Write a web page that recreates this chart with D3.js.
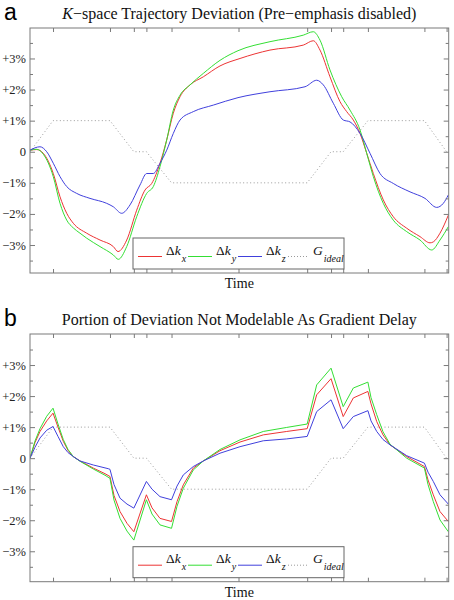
<!DOCTYPE html>
<html><head><meta charset="utf-8">
<script src="https://cdn.jsdelivr.net/npm/d3@7"></script>
<style>body{margin:0;background:#fff}svg{display:block}</style>
</head><body>
<script>
// ---- data (time in arbitrary units 0..100, deviation in %) ----
const timeTicks = [5.5, 19.1, 24.8, 27.8, 33.8, 49.8, 66.2, 71.9, 74.8, 80.7, 94.2, 99.5];
const yTickValues = [-3, -2, -1, 0, 1, 2, 3];
const yTickLabels = ["\u22123%", "\u22122%", "\u22121%", "0", "+1%", "+2%", "+3%"];
const yMinorValues = [-3.5, -2.5, -1.5, -0.5, 0.5, 1.5, 2.5, 3.5];
const gIdeal = [[0,0],[5.5,1],[19.1,1],[24.8,0],[27.8,0],[33.8,-1],[66.2,-1],[71.9,0],[74.8,0],[80.7,1],[94.2,1],[99.5,0],[100,0]];

const topDkx = [[0,0.05],[1.6,0.07],[3.18,-0.05],[5.56,-0.70],[7.17,-1.45],[8.77,-1.98],[10.34,-2.3],[13.54,-2.62],[16.72,-2.84],[19.9,-3.05],[21.02,-3.21],[23.1,-2.84],[25.48,-1.88],[27.47,-1.23],[29.07,-1.02],[31.05,-0.37],[32.65,0.38],[34.23,1.24],[35.83,1.77],[38.21,2.15],[41.39,2.41],[45.38,2.76],[50.16,3.0],[57.32,3.27],[65.27,3.43],[67.66,3.57],[69.26,3.27],[71.65,2.41],[74.04,1.61],[75.64,1.29],[77.22,1.02],[78.82,0.59],[80.42,-0.05],[82.0,-0.70],[84.38,-1.55],[86.77,-2.09],[89.97,-2.46],[93.15,-2.73],[95.54,-2.93],[96.32,-2.9],[97.92,-2.62],[99.91,-2.04]];
const topDky = [[0,0.05],[1.6,0.08],[3.18,-0.08],[5.56,-0.80],[7.17,-1.66],[8.77,-2.2],[10.34,-2.45],[11.94,-2.62],[13.54,-2.78],[16.72,-3.05],[19.9,-3.32],[21.09,-3.46],[23.1,-3.05],[25.48,-2.09],[27.87,-1.34],[29.45,-1.12],[31.05,-0.48],[32.65,0.38],[34.23,1.34],[35.83,1.82],[38.21,2.15],[41.39,2.52],[45.38,2.94],[49.68,3.25],[57.32,3.54],[65.27,3.75],[67.66,3.86],[69.26,3.59],[71.65,2.63],[74.45,1.77],[76.43,1.34],[78.82,0.70],[80.42,-0.05],[82.0,-0.80],[84.38,-1.66],[86.77,-2.2],[89.97,-2.57],[93.15,-2.84],[95.94,-3.16],[97.92,-2.84],[99.91,-2.41]];
const topDkz = [[0,0.05],[2.39,0.16],[3.99,0.0],[5.56,-0.37],[7.17,-0.80],[8.77,-1.12],[11.15,-1.34],[14.33,-1.50],[18.32,-1.66],[19.9,-1.77],[21.9,-1.98],[23.89,-1.71],[26.27,-1.07],[27.87,-0.70],[29.45,-0.70],[31.05,-0.37],[32.65,0.05],[34.23,0.59],[35.83,1.02],[39.0,1.29],[43.78,1.50],[49.68,1.74],[57.32,1.93],[65.68,2.09],[68.47,2.30],[70.05,2.15],[72.44,1.56],[74.83,1.02],[76.43,0.96],[78.82,0.59],[81.21,-0.05],[83.59,-0.70],[86.77,-1.02],[90.76,-1.29],[94.34,-1.50],[97.13,-1.79],[98.71,-1.66],[99.91,-1.39]];

const botDkx = [[0,0],[1.19,0.5],[2.39,0.86],[3.99,1.2],[5.5,1.45],[6.69,1.0],[7.95,0.54],[9.08,0.25],[10.34,0.05],[11.94,-0.09],[15.12,-0.32],[17.91,-0.5],[19.1,-0.59],[20.06,-1.2],[21.5,-1.72],[23.17,-2.1],[24.8,-2.37],[27.8,-1.18],[29.14,-1.6],[31.05,-1.94],[33.8,-2.04],[35.11,-1.4],[36.61,-0.86],[39.0,-0.32],[41.39,-0.09],[45.38,0.24],[50.16,0.52],[55.72,0.75],[61.31,0.86],[66.2,0.95],[68.47,2.04],[71.9,2.56],[74.8,1.34],[77.22,1.94],[80.7,2.15],[81.45,1.75],[82.81,1.18],[84.31,0.75],[85.98,0.43],[89.97,0.05],[94.2,-0.27],[95.06,-0.7],[96.32,-1.18],[97.92,-1.72],[99.91,-2.04]];
const botDky = [[0,0],[1.19,0.55],[2.39,0.95],[3.99,1.35],[5.5,1.61],[6.69,1.1],[7.95,0.6],[9.08,0.28],[10.34,0.05],[11.94,-0.1],[15.12,-0.35],[17.91,-0.55],[19.1,-0.65],[20.06,-1.35],[21.5,-1.94],[23.17,-2.35],[24.8,-2.64],[27.8,-1.34],[29.14,-1.8],[31.05,-2.15],[33.8,-2.26],[35.11,-1.55],[36.61,-0.97],[39.0,-0.38],[41.39,-0.09],[45.38,0.28],[50.16,0.59],[55.72,0.86],[61.31,0.99],[66.2,1.10],[68.47,2.36],[71.9,2.90],[74.8,1.66],[77.22,2.26],[80.7,2.45],[81.45,1.95],[82.81,1.40],[84.31,0.85],[85.98,0.45],[89.97,0.0],[94.2,-0.32],[95.06,-0.85],[96.32,-1.40],[97.92,-1.99],[99.91,-2.37]];
const botDkz = [[0,0],[1.19,0.35],[2.39,0.65],[3.99,0.9],[5.5,1.02],[6.69,0.7],[7.95,0.37],[9.08,0.18],[10.34,0.05],[11.94,-0.09],[15.12,-0.22],[18.7,-0.34],[19.1,-0.36],[20.06,-0.85],[21.5,-1.29],[23.17,-1.48],[24.8,-1.61],[27.8,-0.75],[29.14,-1.0],[31.05,-1.24],[33.8,-1.34],[35.11,-0.9],[36.61,-0.54],[39.0,-0.27],[41.39,-0.09],[45.38,0.16],[50.16,0.37],[55.72,0.56],[61.31,0.62],[66.2,0.70],[68.47,1.5],[71.9,1.88],[74.8,0.95],[77.22,1.34],[80.7,1.53],[81.45,1.2],[82.81,0.86],[84.31,0.6],[85.98,0.43],[89.97,0.08],[94.2,-0.16],[95.06,-0.45],[96.32,-0.75],[97.92,-1.18],[99.91,-1.48]];

const legendNames = [["\u0394", "k", "x"], ["\u0394", "k", "y"], ["\u0394", "k", "z"], ["", "G", "ideal"]];
const seriesColors = ["#ec3434", "#34de34", "#4040dc"];

// ---- drawing ----
const W = 454, H = 600;
const svg = d3.select("body").append("svg").attr("width", W).attr("height", H);
const serif = "'Liberation Serif','Times New Roman',serif";
const frameColor = "#7a7a7a";

const panels = [
  {letter: "a", titleParts: [["K", true], ["\u2212space Trajectory Deviation (Pre\u2212emphasis disabled)", false]],
   top: 28, bottom: 273, yDomain: [-3.9, 3.98], series: [topDkx, topDky, topDkz], curve: d3.curveMonotoneX},
  {letter: "b", titleParts: [["Portion of Deviation Not Modelable As Gradient Delay", false]],
   top: 334, bottom: 581.7, yDomain: [-3.98, 4.0], series: [botDkx, botDky, botDkz], curve: d3.curveLinear}
];

const left = 30, right = 448.7;
const x = d3.scaleLinear().domain([0, 100]).range([left, right]);

panels.forEach(p => {
  const g = svg.append("g");
  const y = d3.scaleLinear().domain(p.yDomain).range([p.bottom, p.top]);

  // panel letter
  g.append("text").attr("x", 4).attr("y", p.top - 8)
    .attr("font-family", "'Liberation Sans',Arial,sans-serif").attr("font-size", 23).text(p.letter);
  // title
  const t = g.append("text").attr("x", (left + right) / 2).attr("y", p.top - 9.5)
    .attr("text-anchor", "middle").attr("font-family", serif).attr("font-size", 16).attr("fill", "#111");
  p.titleParts.forEach(([s, it]) => t.append("tspan").attr("font-style", it ? "italic" : "normal").text(s));

  // clip
  const cid = "clip" + p.letter;
  svg.append("clipPath").attr("id", cid).append("rect")
    .attr("x", left).attr("y", p.top).attr("width", right - left).attr("height", p.bottom - p.top);
  const plot = g.append("g").attr("clip-path", `url(#${cid})`);

  // G ideal
  plot.append("path").datum(gIdeal)
    .attr("d", d3.line().x(d => x(d[0])).y(d => y(d[1])))
    .attr("fill", "none").attr("stroke", "#9a9a9a").attr("stroke-width", 1)
    .attr("stroke-dasharray", "1,2.5");

  p.series.forEach((s, i) => {
    plot.append("path").datum(s)
      .attr("d", d3.line().curve(p.curve).x(d => x(d[0])).y(d => y(d[1])))
      .attr("fill", "none").attr("stroke", seriesColors[i]).attr("stroke-width", 1);
  });

  // axes (ticks inward)
  const axL = d3.axisLeft(y).tickValues(yTickValues).tickSize(-5).tickFormat((d, i) => yTickLabels[i]).tickPadding(4);
  const axLm = d3.axisLeft(y).tickValues(yMinorValues).tickSize(-3).tickFormat("");
  const axR = d3.axisRight(y).tickValues(yTickValues).tickSize(-5).tickFormat("");
  const axRm = d3.axisRight(y).tickValues(yMinorValues).tickSize(-3).tickFormat("");
  const axT = d3.axisTop(x).tickValues(timeTicks).tickSize(-4).tickFormat("");
  const axB = d3.axisBottom(x).tickValues(timeTicks).tickSize(-4).tickFormat("");

  const style = sel => {
    sel.select(".domain").remove();
    sel.selectAll(".tick line").attr("stroke", frameColor);
    sel.selectAll(".tick text").attr("font-family", serif).attr("font-size", 12.5).attr("fill", "#222");
  };
  g.append("g").attr("transform", `translate(${left},0)`).call(axL).call(style);
  g.append("g").attr("transform", `translate(${left},0)`).call(axLm).call(style);
  g.append("g").attr("transform", `translate(${right},0)`).call(axR).call(style);
  g.append("g").attr("transform", `translate(${right},0)`).call(axRm).call(style);
  g.append("g").attr("transform", `translate(0,${p.top})`).call(axT).call(style);
  g.append("g").attr("transform", `translate(0,${p.bottom})`).call(axB).call(style);

  // frame
  g.append("rect").attr("x", left).attr("y", p.top).attr("width", right - left).attr("height", p.bottom - p.top)
    .attr("fill", "none").attr("stroke", frameColor).attr("stroke-width", 1);

  // legend
  const bx = 133, bw = 211, bh = 31, by = p.bottom - 4 - bh;
  const lg = g.append("g");
  lg.append("rect").attr("x", bx).attr("y", by).attr("width", bw).attr("height", bh)
    .attr("fill", "#fff").attr("stroke", "#666").attr("stroke-width", 1);
  legendNames.forEach((n, i) => {
    const lx = bx + 5 + i * 50;
    const ly = by + 18.5;
    const isG = i === 3;
    lg.append("line").attr("x1", lx).attr("x2", lx + (isG ? 21 : 24)).attr("y1", ly).attr("y2", ly)
      .attr("stroke", isG ? "#9a9a9a" : seriesColors[i]).attr("stroke-width", 1)
      .attr("stroke-dasharray", isG ? "1,2" : null);
    const tx = g.append("text").attr("x", lx + (isG ? 25 : 28)).attr("y", by + 16.5)
      .attr("font-family", serif).attr("font-size", 13.5).attr("fill", "#111");
    if (n[0]) tx.append("tspan").text(n[0]);
    tx.append("tspan").attr("font-style", "italic").text(n[1]);
    tx.append("tspan").attr("font-style", "italic").attr("font-size", 10).attr("dy", 7).attr("dx", 1).text(n[2]);
  });

  // x label
  g.append("text").attr("x", (left + right) / 2).attr("y", p.bottom + 15)
    .attr("text-anchor", "middle").attr("font-family", serif).attr("font-size", 14).attr("fill", "#111").text("Time");
});
</script>
</body></html>
